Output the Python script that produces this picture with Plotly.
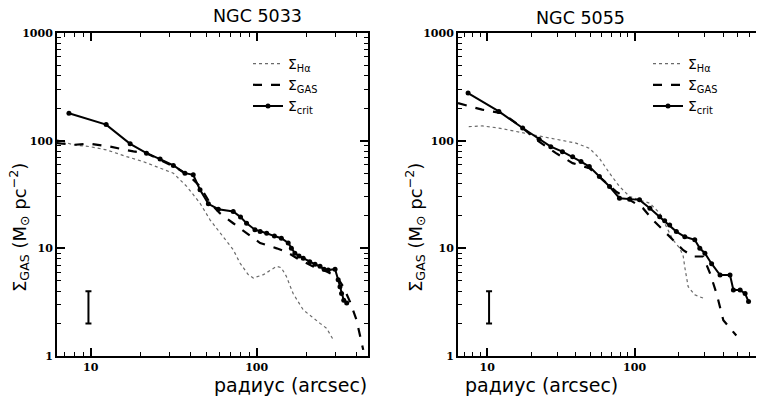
import plotly.graph_objects as go
import numpy as np

# ---------------- data: NGC 5033 ----------------
crit_r_5033 = [7.4, 12.4, 17.3, 21.7, 26.2, 31.5, 37, 41.5, 45.6, 51.2, 58.8, 72.3, 80, 87, 97.7, 105, 115, 128, 141, 155, 162, 170, 180, 191, 209, 225, 241, 255, 270, 297, 310, 318, 325, 335, 349]
crit_v_5033 = [180, 141, 93.5, 76.5, 67.5, 58.9, 49.9, 48.2, 35, 25.9, 23.1, 22, 19.5, 17.1, 14.9, 14.3, 13.8, 13.0, 12.4, 11.2, 10.0, 9.0, 8.5, 8.1, 7.5, 7.1, 6.8, 6.4, 6.3, 6.4, 5.1, 4.4, 3.8, 3.3, 3.1]

gas_r_5033 = [6.24, 7.87, 9.9, 13.1, 18.1, 21.7, 27.4, 33, 39.7, 45.6, 52.4, 60, 72.3, 87, 105, 132, 151, 182, 219, 264, 303, 333, 365, 400, 439]
gas_v_5033 = [95, 91.5, 93.5, 88, 79.4, 76.5, 64, 55.6, 46.5, 37.6, 26.3, 21.2, 17.1, 13.8, 11.2, 10, 9.3, 7.8, 6.8, 6.1, 5.5, 4.4, 3.2, 2.16, 1.14]

ha_r_5033 = [6.24, 7.87, 9.9, 12.5, 16.5, 20.7, 26.2, 31.5, 37.9, 45.6, 52.4, 63, 72.3, 79.4, 89, 95.5, 110, 132, 141, 151, 166, 191, 219, 241, 264, 290]
ha_v_5033 = [102, 91.5, 88, 82, 71, 64, 55.6, 49.9, 37.6, 26.3, 18.4, 12.9, 9.7, 7.3, 5.7, 5.3, 5.7, 6.8, 6.6, 5.5, 3.8, 2.68, 2.24, 2.01, 1.81, 1.41]

# ---------------- data: NGC 5055 ----------------
crit_r_5055 = [7.42, 12, 17.4, 22.5, 27, 32.4, 38, 43.3, 49.3, 57.7, 67.6, 79, 92.5, 108, 127, 148, 160, 173, 192, 219, 256, 277, 300, 333, 380, 444, 468, 520, 562, 593]
crit_v_5055 = [277, 187, 131, 103, 88, 79, 71, 64, 57.5, 46.4, 37.5, 29.2, 28.6, 28.2, 23.6, 19.7, 18.0, 16.5, 14.3, 12.8, 12, 10, 9, 7.2, 5.65, 5.65, 4.1, 4.1, 3.8, 3.2]

gas_r_5055 = [6.34, 9.25, 12.7, 17.4, 22.5, 29.3, 38, 49.3, 60.8, 75, 92.5, 114, 133, 156, 182, 214, 250, 292, 325, 360, 400, 444, 490]
gas_v_5055 = [223, 194, 180, 131, 98, 76.5, 61.8, 55.5, 43.3, 33.6, 28.2, 23.6, 18.4, 14.8, 12, 9.6, 8.4, 8.4, 5.85, 3.8, 2.15, 1.8, 1.55]

ha_r_5055 = [7.5, 9.25, 12, 14.8, 18.2, 23.7, 30.8, 40, 49.3, 57.7, 67.6, 79, 92.5, 108, 127, 148, 164, 182, 203, 214, 219, 231, 256, 277, 300]
ha_v_5055 = [135, 137, 131, 123, 117, 109, 102, 95, 85, 68.7, 49.9, 37.5, 30.3, 28.2, 26.2, 21.2, 15.8, 12, 10, 8.4, 6.7, 4.4, 3.7, 3.55, 3.4]

# error bars (typical uncertainty)
err_r = [9.7, 10.3]
err_lo = [2.0, 2.0]
err_hi = [4.0, 4.0]

x_ticks = [10, 100]
y_ticks = [1, 10, 100, 1000]

titles = ["NGC 5033", "NGC 5055"]
names = ["Σ<sub>Hα</sub>", "Σ<sub>GAS</sub>", "Σ<sub>crit</sub>"]

W, H = 764, 402
OFF = 8  # page body margin offset


def px(x):
    return (x - OFF) / W


def py(y):
    return 1 - (y - OFF) / H


fig = go.Figure()

panels = [
    (ha_r_5033, ha_v_5033, gas_r_5033, gas_v_5033, crit_r_5033, crit_v_5033, "x", "y", "legend"),
    (ha_r_5055, ha_v_5055, gas_r_5055, gas_v_5055, crit_r_5055, crit_v_5055, "x2", "y2", "legend2"),
]
for i, (hr, hv, gr, gv, cr, cv, xa, ya, lg) in enumerate(panels):
    fig.add_trace(go.Scatter(x=hr, y=hv, mode="lines", name=names[0], xaxis=xa, yaxis=ya, legend=lg,
                             line=dict(color="#6a6a6a", width=1.2, dash="dot")))
    fig.add_trace(go.Scatter(x=gr, y=gv, mode="lines", name=names[1], xaxis=xa, yaxis=ya, legend=lg,
                             line=dict(color="black", width=2.2, dash="dash")))
    fig.add_trace(go.Scatter(x=cr, y=cv, mode="lines+markers", name=names[2], xaxis=xa, yaxis=ya, legend=lg,
                             line=dict(color="black", width=2), marker=dict(color="black", size=5)))
    gm = np.sqrt(err_lo[i] * err_hi[i])
    fig.add_trace(go.Scatter(x=[err_r[i]], y=[gm], mode="markers", showlegend=False, xaxis=xa, yaxis=ya,
                             marker=dict(size=0.1, color="black", opacity=0),
                             error_y=dict(type="data", symmetric=False, array=[err_hi[i] - gm],
                                          arrayminus=[gm - err_lo[i]], color="black", thickness=2, width=3)))

tickfont = dict(family="DejaVu Serif", size=11, color="black")
axis_common = dict(type="log", showline=True, linecolor="black", linewidth=2, mirror="ticks",
                   ticks="inside", ticklen=8, tickwidth=1.5, tickcolor="black", showgrid=False,
                   zeroline=False, tickfont=tickfont,
                   minor=dict(ticks="inside", ticklen=4, tickwidth=1, tickcolor="black", dtick="D1", showgrid=False))

xd1 = [px(57), px(368)]
xd2 = [px(458), px(764)]
yd = [py(356), py(33)]

legfont = dict(family="DejaVu Sans", size=14, color="black")
fig.update_layout(
    width=W, height=H, margin=dict(l=0, r=0, t=0, b=0, autoexpand=False),
    paper_bgcolor="white", plot_bgcolor="white",
    xaxis=dict(domain=xd1, range=[np.log10(6.27), np.log10(469)], tickvals=x_ticks,
               ticktext=["<b>%d</b>" % v for v in x_ticks], anchor="y", **axis_common),
    yaxis=dict(domain=yd, range=[0, 3], tickvals=y_ticks, ticktext=["<b>%d</b>" % v for v in y_ticks],
               anchor="x", **axis_common),
    xaxis2=dict(domain=xd2, range=[np.log10(6.34), np.log10(755)], tickvals=x_ticks,
                ticktext=["<b>%d</b>" % v for v in x_ticks], anchor="y2", **axis_common),
    yaxis2=dict(domain=yd, range=[0, 3], tickvals=y_ticks, ticktext=["<b>%d</b>" % v for v in y_ticks],
                anchor="x2", **axis_common),
    legend=dict(x=px(248), y=py(48), xanchor="left", yanchor="top", bgcolor="rgba(0,0,0,0)",
                font=legfont, tracegroupgap=0),
    legend2=dict(x=px(648), y=py(48), xanchor="left", yanchor="top", bgcolor="rgba(0,0,0,0)",
                 font=legfont, tracegroupgap=0),
    font=dict(family="DejaVu Sans", color="black"),
)

ann_font = dict(family="DejaVu Sans", size=17.5, color="black")
# titles
fig.add_annotation(text=titles[0], x=px(211), y=py(16), xref="paper", yref="paper", showarrow=False,
                   yanchor="middle", font=ann_font)
fig.add_annotation(text=titles[1], x=px(627), y=py(18), xref="paper", yref="paper", showarrow=False,
                   yanchor="middle", font=ann_font)
# x titles
for cx in [212, 620]:
    fig.add_annotation(text="радиус (arcsec)", x=px(cx), y=py(385), xref="paper", yref="paper",
                       showarrow=False, yanchor="middle", font=dict(family="DejaVu Sans", size=19, color="black"))
# y titles
for cx in [19, 415]:
    fig.add_annotation(text="Σ<sub>GAS</sub> (M<sub>⊙</sub> pc<sup>−2</sup>)", x=px(cx), y=py(228),
                       xref="paper", yref="paper", showarrow=False, textangle=-90, yanchor="middle",
                       xanchor="center", font=dict(family="DejaVu Sans", size=18, color="black"))

fig.write_html("out.html")
